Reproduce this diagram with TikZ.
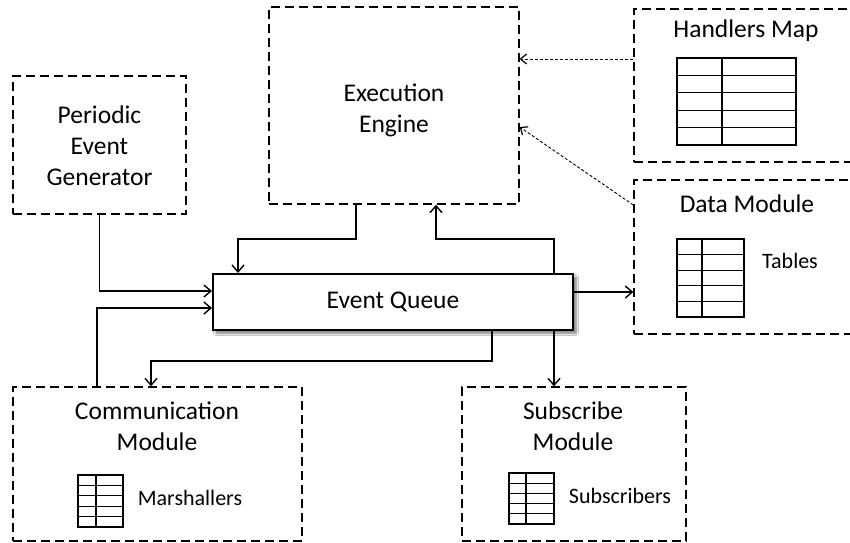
\documentclass[tikz,border=0pt]{standalone}
\usepackage{fontspec}
\setmainfont{Carlito}
\usetikzlibrary{arrows.meta,shadows.blur}

% small table glyph: corners (x1,y1) (x2,y2), column divider at x=#5, five rows
\newcommand\gridtab[5]{%
  \draw[tabline] (#1,#2) rectangle (#3,#4);
  \draw[tabline] (#5,#2) -- (#5,#4);
  \foreach \k in {1,...,4}{%
    \pgfmathsetmacro\yy{#2+\k*(#4-#2)/5}
    \draw[tabline] (#1,\yy) -- (#3,\yy);
  }%
}

\begin{document}
\begin{tikzpicture}[x=1pt,y=-1pt,
  dbox/.style={draw, line width=1.3pt, dash pattern=on 9pt off 5pt, inner sep=0pt},
  qbox/.style={draw, line width=2pt, fill=white, inner sep=0pt,
    minimum width=360pt, minimum height=56pt,
    blur shadow={shadow xshift=3pt, shadow yshift=-3pt, shadow blur radius=2.5pt,
      shadow blur steps=6, shadow opacity=55}},
  lbl/.style={align=center, font=\fontsize{25.5}{31}\selectfont, inner sep=0pt},
  slbl/.style={font=\fontsize{22}{26}\selectfont, inner sep=0pt, anchor=base},
  conn/.style={line width=1.1pt, -{Straight Barb[length=7pt,width=12pt,line width=1.4pt]}},
  dconn/.style={line width=0.9pt, dash pattern=on 3pt off 2pt,
    -{Straight Barb[length=6pt,width=10pt,line width=1.2pt]}},
  tabline/.style={line width=1.2pt}]

\clip (0,0) rectangle (850,542);
\fill[white] (0,0) rectangle (850,542);

% components
\node[dbox, minimum width=250pt, minimum height=197pt] (ee)  at (394,105.5) {};
\node[dbox, minimum width=173pt, minimum height=138pt] (peg) at (99.5,145) {};
\node[dbox, minimum width=226pt, minimum height=153pt] (hm)  at (747,85.5) {};
\node[dbox, minimum width=226pt, minimum height=154pt] (dm)  at (747,257) {};
\node[dbox, minimum width=289pt, minimum height=154pt] (cm)  at (157.5,464) {};
\node[dbox, minimum width=224pt, minimum height=154pt] (sm)  at (574,464) {};
\node[qbox, lbl] (eq) at (393,302) {Event Queue};

% labels
\node[lbl] (eet)  at (394,110) {Execution\\Engine};
\node[lbl] (pegt) at (99.5,146) {Periodic\\Event\\Generator};
\node[lbl, anchor=base] (hmt) at (746,37) {Handlers Map};
\node[lbl, anchor=base] (dmt) at (747,212) {Data Module};
\node[lbl] (cmt) at (157,426) {Communication\\Module};
\node[lbl] (smt) at (573,426) {Subscribe\\Module};
\node[slbl] (tabt) at (790,268) {Tables};
\node[slbl] (mart) at (190,505) {Marshallers};
\node[slbl] (subt) at (620,503) {Subscribers};

% tables
\gridtab{677}{58}{796}{145}{722}
\gridtab{677}{239}{744}{317}{702}
\gridtab{78}{475}{123}{527}{96}
\gridtab{509}{473}{554}{524}{526}

% connectors
\draw[conn] (ee.south -| 356,0) |- (238,239) -- (eq.north -| 238,0);
\draw[conn] (eq.north -| 554,0) |- (436,239) -- (ee.south -| 436,0);
\draw[conn] (peg.south) |- (eq.west |- 0,291);
\draw[conn] (cm.north -| 97,0) |- (eq.west |- 0,308);
\draw[conn] (eq.south -| 492,0) |- (151,361) -- (cm.north -| 151,0);
\draw[conn] (eq.south -| 554,0) -- (sm.north -| 554,0);
\draw[conn] (eq.east |- 0,292) -- (dm.west |- 0,292);
\draw[dconn] (hm.west |- 0,59) -- (ee.east |- 0,59);
\draw[dconn] (dm.west |- 0,205) -- (ee.east |- 0,127);
\end{tikzpicture}
\end{document}
